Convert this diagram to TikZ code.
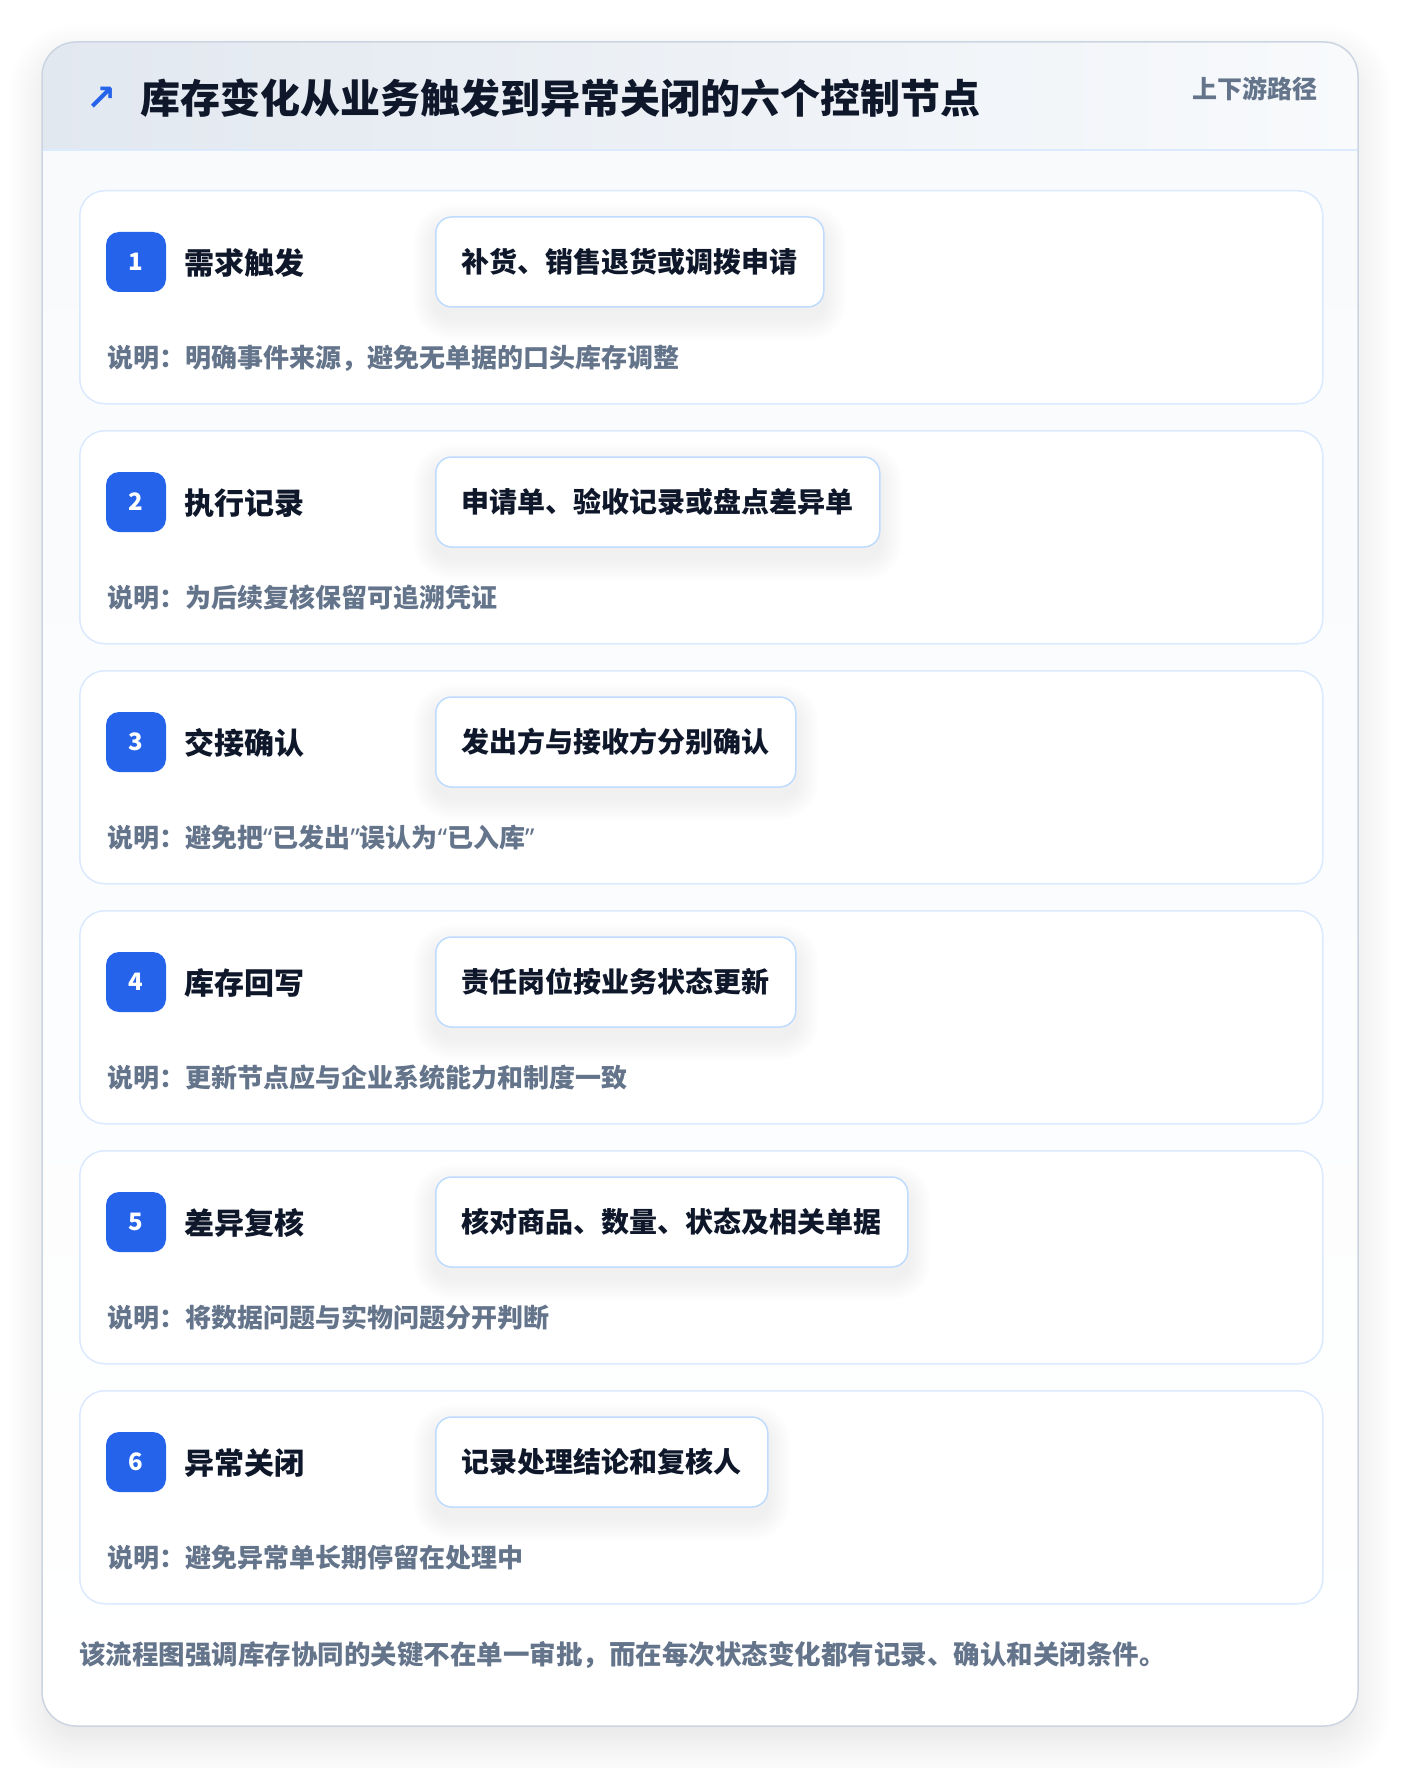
\documentclass[tikz,border=0pt]{standalone}
\usepackage{fontspec}
\setmainfont{Noto Sans CJK SC}
\newfontfamily\symfont{DejaVu Sans}
\newfontfamily\latinfont{Noto Sans}
\usetikzlibrary{shadows.blur}
\pgfdeclarelayer{cardlayer}
\pgfdeclarelayer{shadowlayer}
\pgfsetlayers{cardlayer,shadowlayer,main}
\definecolor{badgeblue}{HTML}{2563EB}
\definecolor{ink}{HTML}{0F172A}
\definecolor{muted}{HTML}{64748B}
\definecolor{cardline}{HTML}{DBEAFE}
\definecolor{pillline}{HTML}{BFDBFE}
\definecolor{outline}{HTML}{CBD5E1}
\definecolor{panelbg}{HTML}{F8FAFC}
\definecolor{hdrL}{HTML}{E2E8F0}
\definecolor{hdrR}{HTML}{F8FAFC}
\newcommand{\fs}[1]{\fontsize{#1}{#1}\selectfont}
\newcommand{\myLq}{{\latinfont“}}
\newcommand{\myRq}{{\latinfont”}}
\tikzset{
  card/.style={draw=cardline, line width=1.5pt, fill=white, rounded corners=25pt,
    minimum width=1243pt, minimum height=213pt, anchor=north west, inner sep=0pt},
  badge/.style={fill=badgeblue, rounded corners=13pt, minimum size=60pt, inner sep=0pt,
    text=white, font=\bfseries\fs{24}},
  steptitle/.style={anchor=west, text=ink, font=\bfseries\fs{30}, inner sep=0pt},
  pill/.style={draw=pillline, line width=1.5pt, fill=white, rounded corners=16pt,
    minimum height=90pt, inner xsep=26pt, anchor=west, text=ink, font=\bfseries\fs{28}},
  softshade/.style={fill=black, opacity=0.0055},
  desc/.style={anchor=west, text=muted, font=\bfseries\fs{26}, inner sep=0pt},
}
\begin{document}
\begin{tikzpicture}[x=1pt, y=-1pt]
\useasboundingbox (0,0) rectangle (1400,1768);
\begin{pgfonlayer}{cardlayer}
% outer frame
\node[anchor=north west, minimum width=1316pt, minimum height=1684pt, inner sep=0pt,
  fill=panelbg, rounded corners=34pt,
  blur shadow={shadow xshift=0pt, shadow yshift=-16pt, shadow blur radius=34pt,
    shadow blur steps=14, shadow opacity=11}]
  (frame) at (42,42) {};
\begin{scope}
  \clip[rounded corners=34pt] (42,42) rectangle (1358,1726);
  \shade[top color=panelbg, bottom color=white] (42,150) rectangle (1358,1726);
  \shade[left color=hdrL, right color=hdrR] (42,42) rectangle (1358,150);
\end{scope}
\draw[cardline, line width=1.5pt] (frame.west |- 0,150) -- (frame.east |- 0,150);
\draw[outline, line width=1.5pt, rounded corners=34pt] (42,42) rectangle (1358,1726);
\end{pgfonlayer}
% header
\node[text=badgeblue, font=\symfont\bfseries\fs{36}, inner sep=0pt] (icon) at (102,99) {↗};
\node[anchor=west, text=ink, font=\bfseries\fs{40}, inner sep=0pt] (title) at (140,98)
  {库存变化从业务触发到异常关闭的六个控制节点};
\node[anchor=east, text=muted, font=\bfseries\fs{25}, inner sep=0pt] (tag) at (1318,89) {上下游路径};
% steps
\foreach \i/\n/\t/\p/\d in {
  1/1/需求触发/补货、销售退货或调拨申请/说明：明确事件来源，避免无单据的口头库存调整,
  2/2/执行记录/申请单、验收记录或盘点差异单/说明：为后续复核保留可追溯凭证,
  3/3/交接确认/发出方与接收方分别确认/说明：避免把\myLq 已发出\myRq 误认为\myLq 已入库\myRq,
  4/4/库存回写/责任岗位按业务状态更新/说明：更新节点应与企业系统能力和制度一致,
  5/5/差异复核/核对商品、数量、状态及相关单据/说明：将数据问题与实物问题分开判断,
  6/6/异常关闭/记录处理结论和复核人/说明：避免异常单长期停留在处理中}{
  \pgfmathsetmacro{\top}{190+240*(\i-1)}
  \begin{pgfonlayer}{cardlayer}
    \node[card] (card\i) at (79,\top) {};
  \end{pgfonlayer}
  \node[badge] (badge\i) at (136,\top+72) {\n};
  \node[steptitle] (title\i) at (184,\top+73) {\t};
  \node[pill] (pill\i) at (435,\top+72) {\p};
  \begin{pgfonlayer}{shadowlayer}
    \foreach \k in {1.5,3,...,22.5}{
      \fill[softshade, rounded corners=16pt+\k pt]
        ([xshift=-\k pt, yshift=\k pt-10pt]pill\i.north west) rectangle
        ([xshift=\k pt, yshift=-\k pt-10pt]pill\i.south east);
    }
  \end{pgfonlayer}
  \node[desc] (desc\i) at (107,\top+168) {\d};
}
% footer
\node[anchor=west, text=muted, font=\bfseries\fs{26.5}, inner sep=0pt] (footer) at (79,1655)
  {该流程图强调库存协同的关键不在单一审批，而在每次状态变化都有记录、确认和关闭条件。};
\end{tikzpicture}
\end{document}
